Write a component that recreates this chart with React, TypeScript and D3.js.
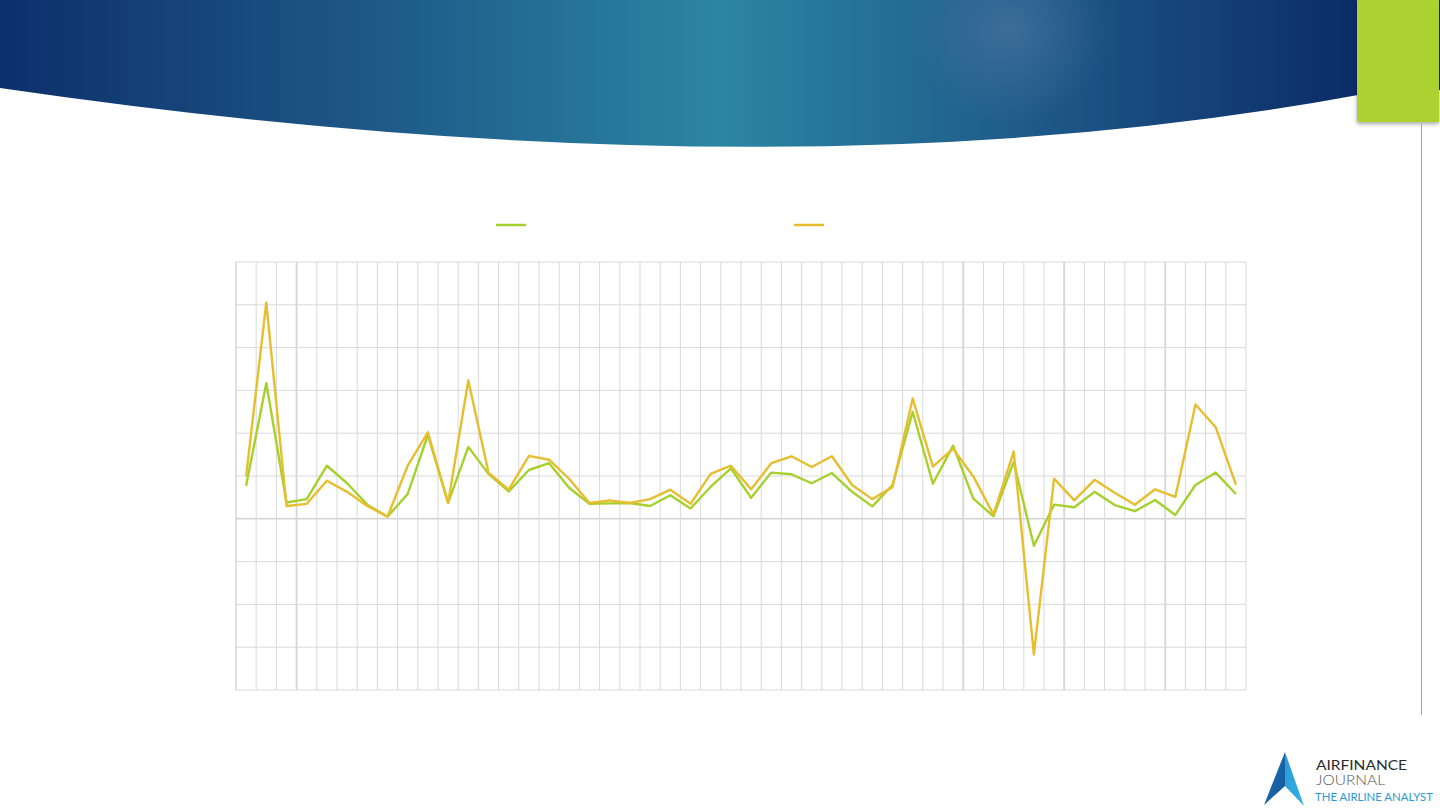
import React from "react";
import * as d3 from "d3";

// values, one gridline = 1 unit
const seriesGreen = [
  0.77, 3.17, 0.38, 0.46, 1.24, 0.83, 0.33, 0.05, 0.58, 1.96,
  0.37, 1.68, 1.05, 0.64, 1.14, 1.3, 0.72, 0.35, 0.36, 0.37,
  0.3, 0.55, 0.24, 0.75, 1.18, 0.49, 1.08, 1.04, 0.83, 1.07,
  0.63, 0.29, 0.79, 2.5, 0.82, 1.71, 0.47, 0.06, 1.33, -0.63,
  0.33, 0.27, 0.63, 0.32, 0.18, 0.44, 0.09, 0.79, 1.08, 0.58,
];
const seriesOrange = [
  0.99, 5.05, 0.3, 0.35, 0.89, 0.63, 0.3, 0.05, 1.24, 2.02,
  0.37, 3.23, 1.08, 0.68, 1.47, 1.38, 0.93, 0.37, 0.43, 0.37,
  0.46, 0.68, 0.35, 1.05, 1.24, 0.69, 1.3, 1.46, 1.21, 1.46,
  0.79, 0.46, 0.74, 2.81, 1.22, 1.64, 0.99, 0.1, 1.57, -3.17,
  0.94, 0.43, 0.91, 0.61, 0.33, 0.69, 0.51, 2.67, 2.14, 0.8,
];
const categories = seriesGreen.map((_, i) => String(i + 1));
const yDomain = [-4, 6];
const strongBoundaries = ["4", "37", "42", "47"];

const GREEN = "#a6d12c";
const ORANGE = "#e6be2e";

const plot = { left: 236, right: 1246, top: 262, bottom: 690 };

const App = () => {
  const x = d3.scaleBand<string>().domain(categories).range([plot.left, plot.right]);
  const y = d3.scaleLinear().domain(yDomain).range([plot.bottom, plot.top]);
  const cx = (i: number) => (x(categories[i]) as number) + x.bandwidth() / 2;

  const line = d3
    .line<number>()
    .x((_, i) => cx(i))
    .y((d) => y(d));

  const yTicks = y.ticks(10);
  const font = "Lato, 'Open Sans', sans-serif";

  return (
    <svg
      width={1440}
      height={810}
      style={{ position: "absolute", left: 0, top: 0, display: "block", background: "#fff" }}
    >
      <defs>
        <linearGradient id="hdr" x1="0" x2="1" y1="0" y2="0">
          <stop offset="0" stopColor="#0d2f6b" />
          <stop offset="0.25" stopColor="#1d5787" />
          <stop offset="0.5" stopColor="#2b86a2" />
          <stop offset="0.7" stopColor="#1f5d8c" />
          <stop offset="0.95" stopColor="#0b2a66" />
        </linearGradient>
        <radialGradient id="glow" cx="0.5" cy="0.5" r="0.5">
          <stop offset="0" stopColor="#46729b" stopOpacity="0.75" />
          <stop offset="1" stopColor="#46729b" stopOpacity="0" />
        </radialGradient>
        <linearGradient id="logoL" x1="0" x2="1" y1="0" y2="1">
          <stop offset="0" stopColor="#1c74b6" />
          <stop offset="1" stopColor="#15559a" />
        </linearGradient>
        <linearGradient id="logoR" x1="0" x2="1" y1="0" y2="1">
          <stop offset="0" stopColor="#2a9ad6" />
          <stop offset="1" stopColor="#33b2e6" />
        </linearGradient>
        <filter id="shadow" x="-20%" y="-20%" width="140%" height="150%">
          <feDropShadow dx="0" dy="2" stdDeviation="2" floodColor="#000" floodOpacity="0.35" />
        </filter>
      </defs>

      {/* header band */}
      <path d="M0,0 H1440 V90 L1358,95 Q781,202 0,88 Z" fill="url(#hdr)" />
      <ellipse cx={1010} cy={30} rx={100} ry={95} fill="url(#glow)" />
      <rect x={1357} y={0} width={82} height={122} fill="#acd233" filter="url(#shadow)" />
      <line x1={1421.5} x2={1421.5} y1={124} y2={715} stroke="#9aa7bd" strokeWidth={1} />

      {/* legend swatches */}
      <line x1={496} x2={526} y1={225} y2={225} stroke={GREEN} strokeWidth={2.5} />
      <line x1={794} x2={824} y1={225} y2={225} stroke={ORANGE} strokeWidth={2.5} />

      {/* grid */}
      <g>
        {yTicks.map((t) => (
          <line
            key={"h" + t}
            x1={plot.left}
            x2={plot.right}
            y1={y(t)}
            y2={y(t)}
            stroke={t === 0 ? "#bdbdbd" : "#d9d9d9"}
            strokeWidth={1}
          />
        ))}
        {categories.map((c) => (
          <line
            key={"v" + c}
            x1={x(c) as number}
            x2={x(c) as number}
            y1={plot.top}
            y2={plot.bottom}
            stroke={c === "1" ? "#c4c4c4" : "#d9d9d9"}
            strokeWidth={strongBoundaries.includes(c) ? 2 : 1}
          />
        ))}
        <line x1={plot.right} x2={plot.right} y1={plot.top} y2={plot.bottom} stroke="#d9d9d9" />
      </g>

      {/* series */}
      <path d={line(seriesGreen) || ""} fill="none" stroke={GREEN} strokeWidth={2.4} strokeLinejoin="round" />
      <path d={line(seriesOrange) || ""} fill="none" stroke={ORANGE} strokeWidth={2.4} strokeLinejoin="round" />

      {/* logo */}
      <g>
        <polygon points="1285,752 1264,805 1285,786" fill="url(#logoL)" />
        <polygon points="1285,752 1304,806 1285,786" fill="url(#logoR)" />
        <text x={1316} y={769.5} fontFamily={font} fontSize={14} fill="#2b2b2b" textLength={91} lengthAdjust="spacingAndGlyphs">
          AIRFINANCE
        </text>
        <text x={1316} y={785} fontFamily={font} fontSize={14.5} fill="#555" fontWeight={300} textLength={69} lengthAdjust="spacingAndGlyphs">
          JOURNAL
        </text>
        <text x={1315} y={801} fontFamily={font} fontSize={12} fill="#2b9ad4" textLength={118} lengthAdjust="spacingAndGlyphs">
          THE AIRLINE ANALYST
        </text>
      </g>
    </svg>
  );
};

export default App;
